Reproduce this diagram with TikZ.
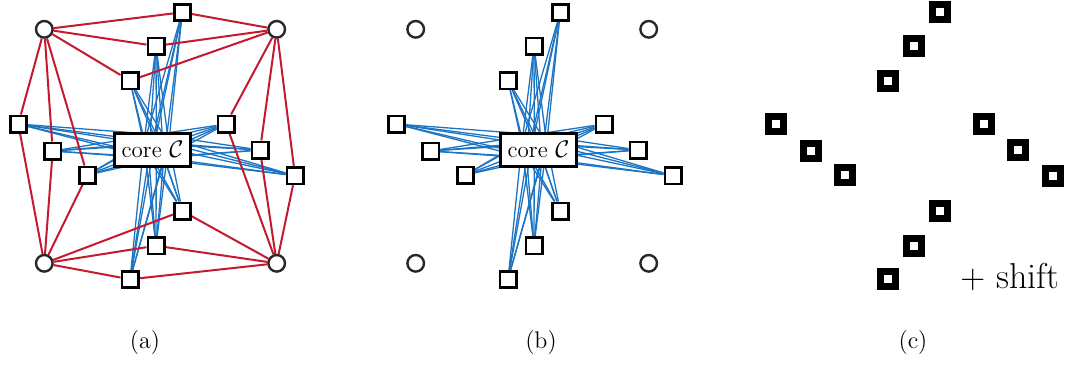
\documentclass[tikz,border=0pt]{standalone}
\usepackage{amsmath,amssymb}
\usepackage{xcolor}
\usepackage{tikz}
\usetikzlibrary{positioning}

\definecolor{ringred}{RGB}{196,26,46}
\definecolor{coreblue}{RGB}{28,116,196}
\definecolor{dotgray}{RGB}{40,40,40}

\pgfdeclarelayer{background}
\pgfsetlayers{background,main}

\begin{document}
\begin{tikzpicture}[x=0.5pt, y=-0.5pt,
    sq node/.style={rectangle, draw=black, line width=1.35pt, fill=white, minimum size=8.15pt, inner sep=0pt},
    fat sq/.style={rectangle, draw=black, line width=3.4pt, fill=white, minimum size=7.5pt, inner sep=0pt},
    ring node/.style={circle, draw=dotgray, line width=1.2pt, fill=white, minimum size=8.3pt, inner sep=0pt},
    core box/.style={rectangle, draw=black, line width=1.4pt, fill=white, minimum width=38pt, minimum height=16.6pt, inner sep=0pt, font=\fontsize{11.5}{13}\selectfont},
    core edge/.style={coreblue, line width=0.65pt},
    ring edge/.style={ringred, line width=1pt},
    caption/.style={font=\fontsize{12}{14}\selectfont}
]

\useasboundingbox (0,0) rectangle (1070,364);

% ---------- (a) ----------
\foreach \n/\x/\y in {t1/182.3/12.3, t2/156/46, t3/130/80.7,
                      l1/18.3/124, l2/52.7/151, l3/87.3/175,
                      r1/226/124, r2/260/150, r3/295/175.7,
                      b1/182.3/211, b2/156/245.7, b3/130/279.3}
  \node[sq node] (a-\n) at (\x,\y) {};

\node[ring node] (a-tl) at (44.3,29.3) {};
\node[ring node] (a-tr) at (276.7,29.3) {};
\node[ring node] (a-bl) at (44.3,263.3) {};
\node[ring node] (a-br) at (276.7,263.3) {};

\node[core box] (a-core) at (152.5,149.7) {core $\mathcal{C}$};

% hidden core members
\foreach \k/\dx/\dy in {1/0/-13, 2/12.4/-4, 3/7.6/10.5, 4/-7.6/10.5, 5/-12.4/-4}
  \coordinate (a-c\k) at ({156.3+\dx},{147.5+\dy});

% ---------- (b) ----------
\foreach \n/\x/\y in {t1/182.3/12.3, t2/156/46, t3/130/80.7,
                      l1/18.3/124, l2/52.7/151, l3/87.3/175,
                      r1/226/124, r2/260/150, r3/295/175.7,
                      b1/182.3/211, b2/156/245.7, b3/130/279.3}
  \node[sq node] (b-\n) at ({\x+378},\y) {};

\node[ring node] (b-tl) at (415.7,29.3) {};
\node[ring node] (b-tr) at (648.7,29.3) {};
\node[ring node] (b-bl) at (415.7,263.3) {};
\node[ring node] (b-br) at (648.7,263.3) {};

\node[core box] (b-core) at (538.5,149.7) {core $\mathcal{C}$};

\foreach \k/\dx/\dy in {1/0/-13, 2/12.4/-4, 3/7.6/10.5, 4/-7.6/10.5, 5/-12.4/-4}
  \coordinate (b-c\k) at ({534.3+\dx},{147.5+\dy});

% ---------- (c) ----------
\foreach \n/\x/\y in {t1/182.3/12.3, t2/156/46, t3/130/80.7,
                      l1/18.3/124, l2/52.7/151, l3/87.3/175,
                      r1/226/124, r2/260/150, r3/295/175.7,
                      b1/182.3/211, b2/156/245.7, b3/130/279.3}
  \node[fat sq] (c-\n) at ({\x+758},\y) {};

\node[anchor=base west, inner sep=0pt, font=\fontsize{18}{20}\selectfont] (shift) at (960,288) {$+$ shift};

% captions
\node[caption] (cap-a) at (145,343) {(a)};
\node[caption] (cap-b) at (541,343) {(b)};
\node[caption] (cap-c) at (913,343) {(c)};

% ---------- edges ----------
\begin{pgfonlayer}{background}
\foreach \p in {a,b}
  \foreach \n in {t1,t2,t3,l1,l2,l3,r1,r2,r3,b1,b2,b3}
    \foreach \k in {1,...,5}
      \draw[core edge] (\p-\n) -- (\p-c\k);

\foreach \c/\g in {tl/t, tl/l, tr/t, tr/r, bl/l, bl/b, br/r, br/b}
  \foreach \i in {1,2,3}
    \draw[ring edge] (a-\c) -- (a-\g\i);
\end{pgfonlayer}

\end{tikzpicture}
\end{document}
